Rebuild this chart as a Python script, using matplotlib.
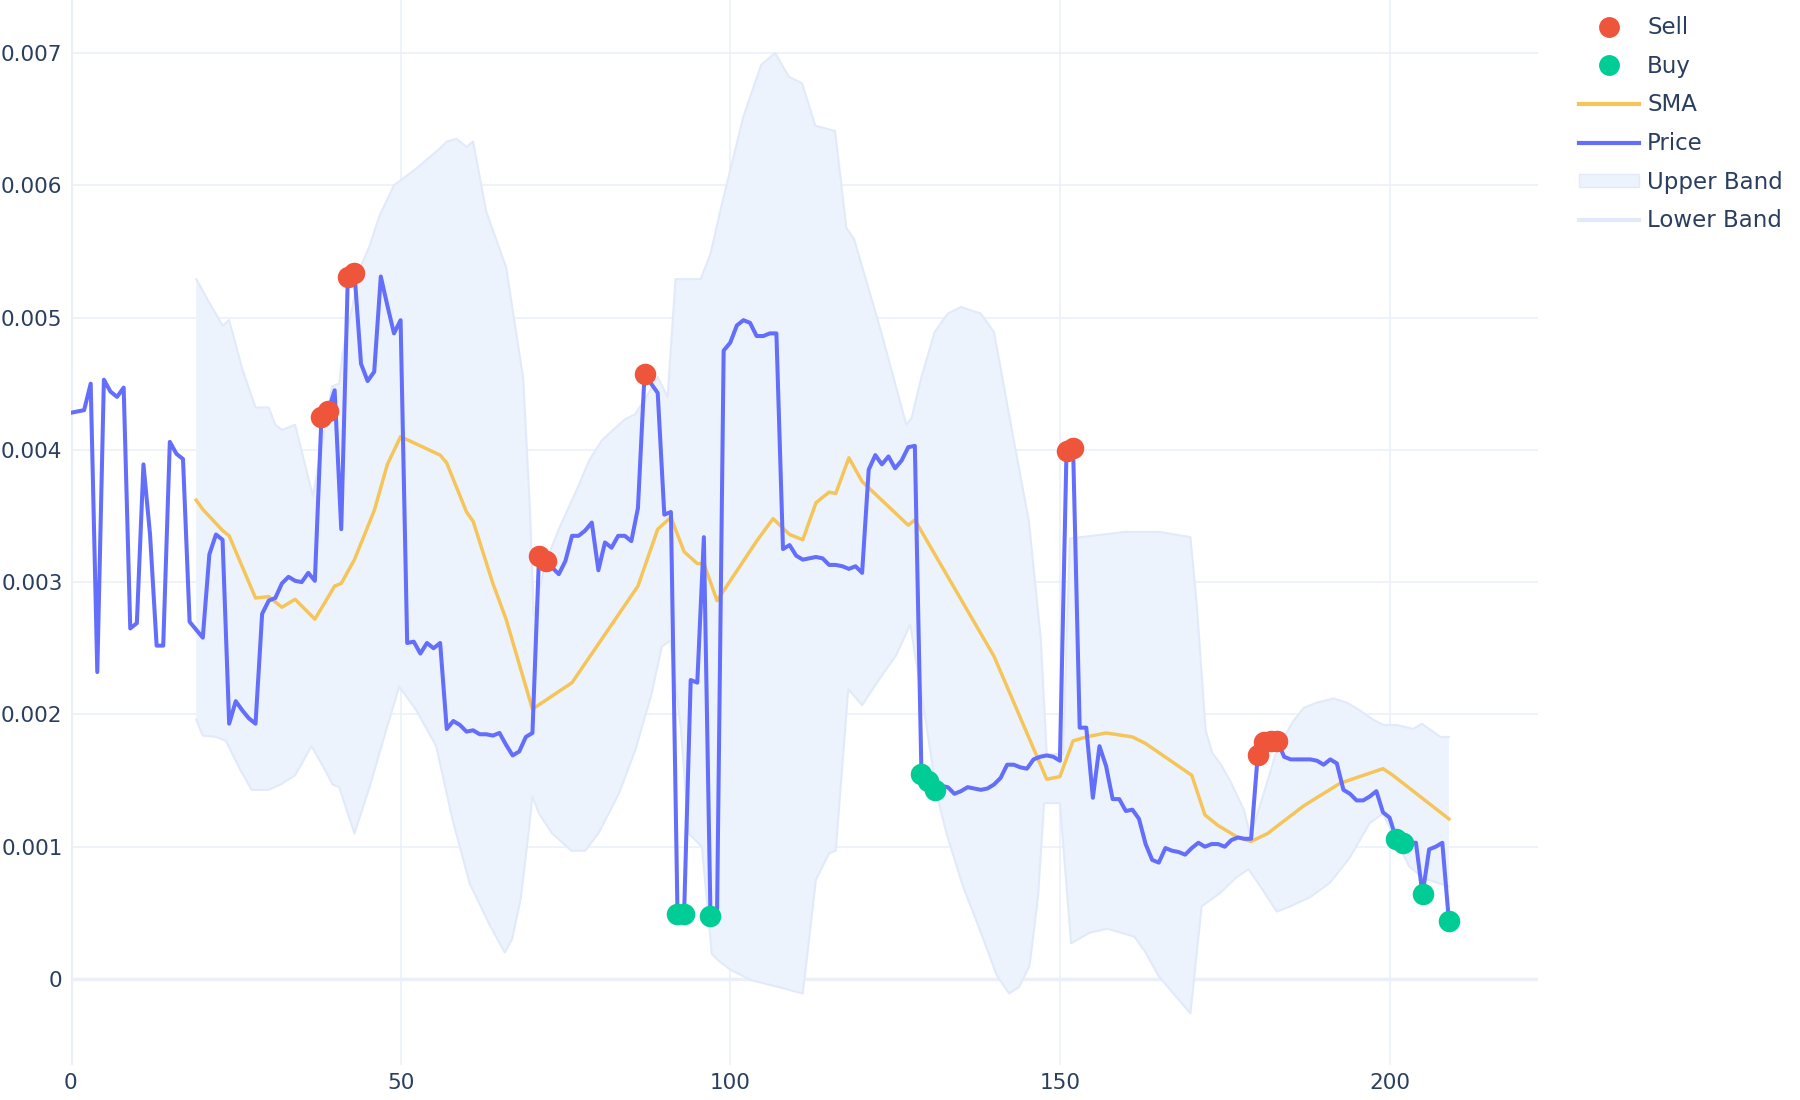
import numpy as np
import matplotlib
matplotlib.use("Agg")
import matplotlib.pyplot as plt
from matplotlib.lines import Line2D
from matplotlib.patches import Patch

# price per step, x1e-3
price = [4.28, 4.29, 4.30, 4.50, 2.32, 4.53, 4.44, 4.40, 4.47, 2.65,
         2.69, 3.89, 3.36, 2.52, 2.52, 4.06, 3.97, 3.93, 2.70, 2.64,
         2.58, 3.21, 3.36, 3.32, 1.93, 2.10, 2.03, 1.97, 1.93, 2.76,
         2.86, 2.88, 2.99, 3.04, 3.01, 3.00, 3.07, 3.01, 4.25, 4.29,
         4.45, 3.40, 5.31, 5.34, 4.65, 4.52, 4.59, 5.31, 5.09, 4.88,
         4.98, 2.54, 2.55, 2.46, 2.54, 2.50, 2.54, 1.89, 1.95, 1.92,
         1.87, 1.88, 1.85, 1.85, 1.84, 1.86, 1.77, 1.69, 1.72, 1.83,
         1.86, 3.20, 3.16, 3.11, 3.06, 3.16, 3.35, 3.35, 3.39, 3.45,
         3.09, 3.30, 3.26, 3.35, 3.35, 3.31, 3.56, 4.57, 4.50, 4.43,
         3.51, 3.53, 0.49, 0.49, 2.26, 2.24, 3.34, 0.48, 0.50, 4.75,
         4.81, 4.94, 4.98, 4.96, 4.86, 4.86, 4.88, 4.88, 3.25, 3.28,
         3.20, 3.17, 3.18, 3.19, 3.18, 3.13, 3.13, 3.12, 3.10, 3.12,
         3.07, 3.85, 3.96, 3.89, 3.95, 3.86, 3.92, 4.02, 4.03, 1.55,
         1.50, 1.43, 1.46, 1.45, 1.40, 1.42, 1.45, 1.44, 1.43, 1.44,
         1.47, 1.52, 1.62, 1.62, 1.60, 1.59, 1.66, 1.68, 1.69, 1.68,
         1.65, 3.99, 4.01, 1.90, 1.90, 1.37, 1.76, 1.61, 1.36, 1.36,
         1.27, 1.28, 1.21, 1.02, 0.90, 0.88, 0.99, 0.97, 0.96, 0.94,
         0.99, 1.03, 1.00, 1.02, 1.02, 1.00, 1.05, 1.07, 1.06, 1.06,
         1.69, 1.79, 1.80, 1.80, 1.68, 1.66, 1.66, 1.66, 1.66, 1.65,
         1.62, 1.66, 1.63, 1.43, 1.40, 1.35, 1.35, 1.38, 1.42, 1.26,
         1.22, 1.06, 1.03, 1.03, 1.03, 0.64, 0.98, 1.00, 1.03, 0.44]

sell_idx = [38, 39, 42, 43, 71, 72, 87, 151, 152, 180, 181, 182, 183]
buy_idx = [92, 93, 97, 129, 130, 131, 201, 202, 205, 209]

sma_x = [19, 20, 23, 24, 28, 30, 32, 34, 37, 40, 41, 43, 46, 48, 50, 56, 57,
         60, 61, 64, 66, 70, 76, 86, 89, 91, 93, 95, 96, 98, 104, 106.5, 109,
         111, 113, 115, 116, 118, 120, 127, 128, 140, 148, 150, 152, 154,
         157, 161, 163, 170, 172, 174, 175, 177, 179, 181.5, 187, 192.5,
         199, 200.5, 209]
sma_y = [3.62, 3.55, 3.39, 3.35, 2.88, 2.89, 2.81, 2.87, 2.72, 2.97, 2.99,
         3.17, 3.54, 3.89, 4.10, 3.96, 3.90, 3.53, 3.46, 2.99, 2.72, 2.04,
         2.24, 2.97, 3.40, 3.49, 3.23, 3.14, 3.14, 2.86, 3.31, 3.48, 3.36,
         3.32, 3.60, 3.68, 3.67, 3.94, 3.76, 3.43, 3.47, 2.44, 1.51, 1.53,
         1.80, 1.83, 1.86, 1.83, 1.78, 1.54, 1.24, 1.16, 1.13, 1.07, 1.04,
         1.10, 1.31, 1.48, 1.59, 1.54, 1.21]

upper_x = [19, 20.8, 23, 24, 26, 28, 30, 31, 32, 34, 36.7, 39.6, 40.7, 41.2,
           44, 45.3, 46.8, 49, 52.5, 56, 57, 58.5, 60, 61, 63, 66, 68.6, 69.6,
           70.2, 72, 74, 77, 78.6, 80.5, 82, 84, 85.6, 87.5, 89, 90.5, 91.7,
           95.5, 97, 98.6, 102, 104.7, 106.8, 108.9, 110.9, 112.9, 115.9,
           117.6, 118.8, 122.9, 126.7, 127.5, 129, 131, 133, 135, 138, 140,
           142.9, 145.3, 147.1, 148, 150.5, 151.5, 160, 165, 169.8, 170.8,
           172.1, 173.1, 174.3, 175.8, 177.9, 178.9, 180.9, 182.9, 185.4,
           187, 189, 191.5, 193.5, 195.5, 197.5, 199.1, 201.1, 203.6, 204.9,
           207.7, 209]
upper_y = [5.29, 5.13, 4.94, 4.98, 4.61, 4.32, 4.32, 4.19, 4.15, 4.19, 3.65,
           4.48, 4.50, 4.73, 5.39, 5.54, 5.77, 6.00, 6.13, 6.28, 6.33, 6.35,
           6.29, 6.33, 5.80, 5.38, 4.54, 3.57, 2.75, 3.15, 3.40, 3.73, 3.92,
           4.07, 4.14, 4.23, 4.27, 4.42, 4.55, 4.40, 5.29, 5.29, 5.48, 5.83,
           6.52, 6.91, 7.00, 6.82, 6.77, 6.45, 6.41, 5.68, 5.59, 4.89, 4.19,
           4.24, 4.55, 4.89, 5.03, 5.08, 5.03, 4.89, 4.10, 3.46, 2.57, 1.70,
           1.70, 3.33, 3.38, 3.38, 3.34, 2.80, 1.88, 1.71, 1.63, 1.50, 1.28,
           1.08, 1.40, 1.73, 1.95, 2.05, 2.09, 2.12, 2.09, 2.03, 1.96, 1.92,
           1.92, 1.89, 1.93, 1.83, 1.83]

lower_x = [19, 20, 22, 23.5, 25.7, 27.4, 30, 31.8, 34, 36.5, 38.2, 39.7, 40.7,
           43, 45.3, 47.8, 49.8, 52.4, 55.4, 57.9, 60.5, 63.5, 65.8, 66.9,
           68.2, 69.4, 70, 71, 73, 75.9, 78, 80, 83.1, 85.6, 88.1, 89.6, 90.9,
           92.5, 93.7, 95.7, 97.2, 98.2, 100, 103.3, 107.3, 111, 113, 115,
           116, 117.9, 120, 122.8, 125.2, 127.3, 129.5, 131.3, 132.8, 135.3,
           137.8, 140.4, 142.3, 143.8, 145.4, 146.7, 147.6, 150, 151.7, 154.5,
           157.2, 161.3, 163, 165, 169.8, 171.5, 174.3, 176.8, 178.6, 180,
           182.9, 185, 188, 191, 194, 197, 199, 200.5, 203, 205.2, 209]
lower_y = [1.96, 1.84, 1.83, 1.80, 1.58, 1.43, 1.43, 1.47, 1.54, 1.76, 1.61,
           1.47, 1.45, 1.10, 1.45, 1.88, 2.21, 2.03, 1.76, 1.20, 0.72, 0.41,
           0.20, 0.30, 0.60, 1.10, 1.38, 1.25, 1.10, 0.97, 0.97, 1.10, 1.40,
           1.73, 2.16, 2.51, 2.56, 1.90, 1.10, 1.00, 0.19, 0.14, 0.07, -0.01,
           -0.06, -0.11, 0.75, 0.95, 0.97, 2.19, 2.07, 2.28, 2.45, 2.68, 2.00,
           1.40, 1.10, 0.70, 0.38, 0.03, -0.11, -0.06, 0.10, 0.63, 1.33, 1.33,
           0.27, 0.35, 0.38, 0.32, 0.20, 0.02, -0.26, 0.55, 0.65, 0.77, 0.83,
           0.73, 0.51, 0.55, 0.62, 0.73, 0.92, 1.18, 1.25, 1.10, 0.85, 0.76,
           0.70]

price = np.array(price) / 1000
x = np.arange(len(price))
sma_y = np.array(sma_y) / 1000
upper_y = np.array(upper_y) / 1000
lower_y = np.array(lower_y) / 1000

grid_c = "#EBF0F8"
text_c = "#2a3f5f"
band_fill = "#EDF3FD"
band_line = "#E2EAF9"

fig = plt.figure(figsize=(18, 11), dpi=100)
ax = fig.add_axes([0.0394, 0.0318, 0.815, 0.9682])

# band
ax.fill(np.concatenate([upper_x, lower_x[::-1]]),
        np.concatenate([upper_y, lower_y[::-1]]),
        color=band_fill, lw=0, zorder=1)
ax.plot(upper_x, upper_y, color=band_line, lw=1.5, zorder=2)
ax.plot(lower_x, lower_y, color=band_line, lw=1.5, zorder=2)

ax.plot(sma_x, sma_y, color="#F5C55A", lw=2.5, zorder=3)
ax.plot(x, price, color="#636EFA", lw=2.9, zorder=4)
ax.scatter(x[sell_idx], price[sell_idx], s=240, color="#EF553B", lw=0, zorder=5)
ax.scatter(x[buy_idx], price[buy_idx], s=240, color="#00CC96", lw=0, zorder=5)

ax.set_xlim(0, 222.5)
ax.set_ylim(-0.00065, 0.0074)
ax.set_xticks([0, 50, 100, 150, 200])
ax.set_yticks([0, 0.001, 0.002, 0.003, 0.004, 0.005, 0.006, 0.007])
ax.set_yticklabels(["0", "0.001", "0.002", "0.003", "0.004", "0.005", "0.006", "0.007"])
ax.grid(True, color=grid_c, lw=1.2, zorder=0)
ax.set_axisbelow(True)
ax.axhline(0, color=grid_c, lw=2.5, zorder=0.5)
ax.axvline(0, color=grid_c, lw=3, zorder=0.5)
for s in ax.spines.values():
    s.set_visible(False)
ax.tick_params(length=0, labelsize=15.5, labelcolor=text_c, pad=6)

handles = [
    Line2D([], [], ls="none", marker="o", ms=14, color="#EF553B"),
    Line2D([], [], ls="none", marker="o", ms=14, color="#00CC96"),
    Line2D([], [], color="#F5C55A", lw=3),
    Line2D([], [], color="#636EFA", lw=3),
    Patch(facecolor=band_fill, edgecolor=band_line),
    Line2D([], [], color=band_line, lw=3),
]
labels = ["Sell", "Buy", "SMA", "Price", "Upper Band", "Lower Band"]
leg = fig.legend(handles, labels, loc="upper left", bbox_to_anchor=(0.866, 1.004),
                 frameon=False, fontsize=16.5, handlelength=2.6,
                 handleheight=0.5, handletextpad=0.35, labelspacing=0.68,
                 borderaxespad=0.5)
for t in leg.get_texts():
    t.set_color(text_c)

fig.savefig("out.png", dpi=100)
